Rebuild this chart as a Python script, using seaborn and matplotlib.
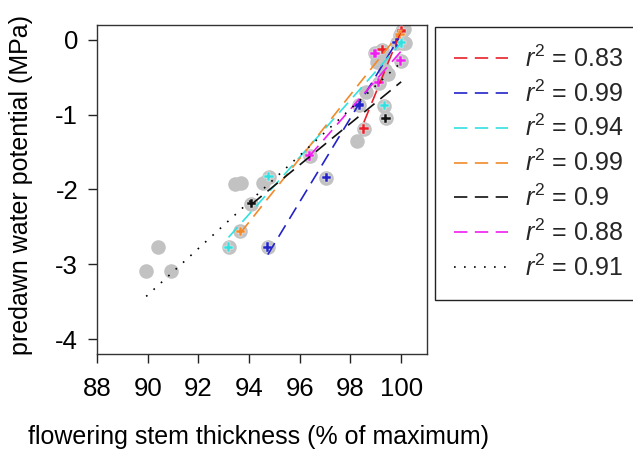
import matplotlib
matplotlib.use("Agg")
import numpy as np
import pandas as pd
import seaborn as sns
import matplotlib.pyplot as plt

sns.set_theme(style="white")
plt.rcParams['font.family'] = ['Liberation Sans', 'DejaVu Sans']
plt.rcParams['mathtext.fontset'] = 'custom'
plt.rcParams['mathtext.rm'] = 'Liberation Sans'
plt.rcParams['mathtext.it'] = 'Liberation Sans:italic'

# ---- data ----
x_ticks = [88, 90, 92, 94, 96, 98, 100]
y_ticks = [0, -1, -2, -3, -4]

# grey points that carry no coloured marker
grey_x = [89.94, 90.40, 90.92, 93.43, 93.69, 94.55, 98.24, 99.03, 99.36, 98.63, 99.20, 100.15, 99.50, 100.10]
grey_y = [-3.09, -2.77, -3.09, -1.93, -1.91, -1.91, -1.35, -0.29, -0.40, -0.69, -0.24, -0.04, -0.45, 0.14]

series_names = ["red", "blue", "cyan", "orange", "black", "magenta"]
series_colors = ["#E8202A", "#2323C8", "#33E0E0", "#F28A2A", "#111111", "#F01EF0"]

red_x = [98.53, 99.25, 100.02]
red_y = [-1.19, -0.13, 0.12]
blue_x = [94.74, 97.05, 98.34, 99.82]
blue_y = [-2.77, -1.84, -0.87, -0.04]
cyan_x = [93.19, 94.78, 99.33, 100.02]
cyan_y = [-2.77, -1.83, -0.88, -0.04]
orange_x = [93.66, 99.95]
orange_y = [-2.56, 0.07]
black_x = [94.09, 99.40]
black_y = [-2.19, -1.05]
magenta_x = [96.39, 98.97, 99.12, 99.99]
magenta_y = [-1.55, -0.18, -0.57, -0.28]

# fitted regression line end points
red_fit_x = [98.53, 100.02]
red_fit_y = [-1.10, 0.14]
blue_fit_x = [94.74, 99.90]
blue_fit_y = [-2.87, 0.02]
cyan_fit_x = [93.19, 100.05]
cyan_fit_y = [-2.64, -0.02]
orange_fit_x = [93.66, 100.05]
orange_fit_y = [-2.58, 0.14]
black_fit_x = [94.09, 100.00]
black_fit_y = [-2.20, -0.56]
magenta_fit_x = [96.39, 100.00]
magenta_fit_y = [-1.55, -0.15]
all_fit_x = [89.94, 100.00]
all_fit_y = [-3.43, -0.30]

r2_labels = ["0.83", "0.99", "0.94", "0.99", "0.9", "0.88", "0.91"]

pts_x = [red_x, blue_x, cyan_x, orange_x, black_x, magenta_x]
pts_y = [red_y, blue_y, cyan_y, orange_y, black_y, magenta_y]
fit_x = [red_fit_x, blue_fit_x, cyan_fit_x, orange_fit_x, black_fit_x, magenta_fit_x]
fit_y = [red_fit_y, blue_fit_y, cyan_fit_y, orange_fit_y, black_fit_y, magenta_fit_y]

# ---- tables ----
rows = []
for name, xs, ys in zip(series_names, pts_x, pts_y):
    for a, b in zip(xs, ys):
        rows.append((name, a, b))
colored = pd.DataFrame(rows, columns=["series", "x", "y"])
allpts = pd.concat([pd.DataFrame({"series": "grey", "x": grey_x, "y": grey_y}), colored],
                   ignore_index=True)

# ---- figure ----
W, H = 633, 449
fig = plt.figure(figsize=(W / 100, H / 100), dpi=100)
ax = fig.add_axes([97 / W, (H - 354) / H, (426.5 - 97) / W, (354 - 25) / H])

sns.scatterplot(data=allpts, x="x", y="y", color="#C2C2C2", s=110, linewidth=0,
                ax=ax, legend=False, zorder=2)
sns.scatterplot(data=colored, x="x", y="y", hue="series", hue_order=series_names,
                palette=dict(zip(series_names, series_colors)), marker="P", s=45,
                linewidth=0.3, ax=ax, legend=False, zorder=3)

handles = []
dash = (0, (8.0, 4.5))
for c, xs, ys in zip(series_colors, fit_x, fit_y):
    sns.lineplot(x=xs, y=ys, ax=ax, color=c, linestyle=dash, linewidth=1.2,
                 sort=False, estimator=None, errorbar=None, zorder=4)
    handles.append(ax.lines[-1])
sns.lineplot(x=all_fit_x, y=all_fit_y, ax=ax, color="black", linestyle=(0, (1, 5)),
             linewidth=1.2, sort=False, estimator=None, errorbar=None, zorder=4)
handles.append(ax.lines[-1])

ax.set_xlim(88, 101.0)
ax.set_ylim(-4.2, 0.2)
ax.set_xticks(x_ticks)
ax.set_xticklabels([str(t) for t in x_ticks])
ax.set_yticks(y_ticks)
ax.set_yticklabels([str(t) for t in y_ticks])
ax.tick_params(axis="both", which="major", bottom=True, left=True, direction="out",
               length=6.5, width=1.0, colors="#222222", labelsize=18.5, labelcolor="black")
ax.tick_params(axis="x", pad=10)
ax.tick_params(axis="y", pad=7)
for sp in ax.spines.values():
    sp.set_color("#333333")
    sp.set_linewidth(1.0)

ax.set_xlabel("flowering stem thickness (% of maximum)", fontsize=18, color="black")
ax.set_ylabel("predawn water potential (MPa)", fontsize=18, color="black")
ax.xaxis.set_label_coords(0.49, -0.215)
ax.yaxis.set_label_coords(-0.193, 0.515)

labels = [r"$r^2$ = " + v for v in r2_labels]
leg = ax.legend(handles, labels, loc="upper left",
                bbox_to_anchor=(435 / W, 1 - 26.7 / H), bbox_transform=fig.transFigure,
                fontsize=18, frameon=True, fancybox=False, edgecolor="#222222",
                framealpha=1, borderpad=0.74, handlelength=2.16, handletextpad=0.7,
                labelspacing=0.34, borderaxespad=0)
leg.get_frame().set_linewidth(1.0)

fig.savefig("out.png", dpi=100)
